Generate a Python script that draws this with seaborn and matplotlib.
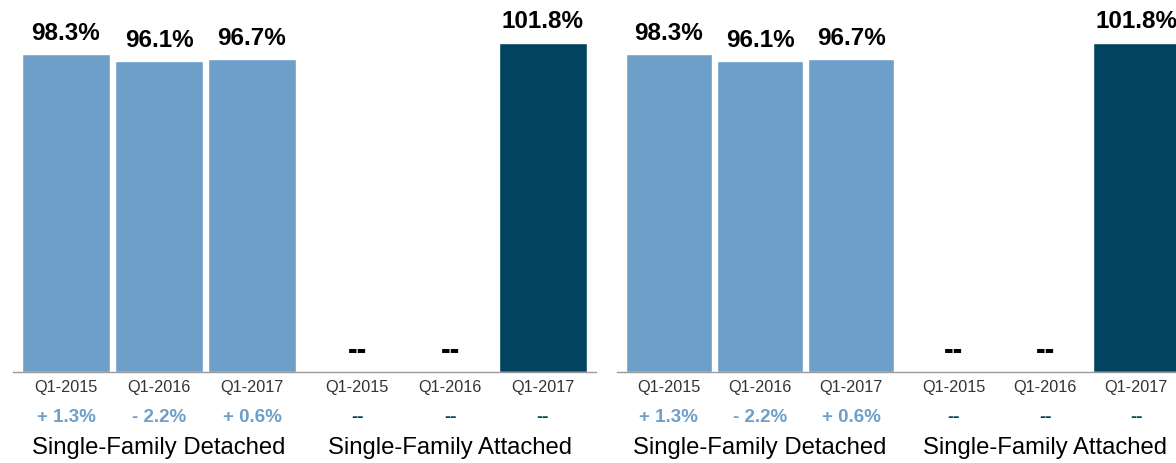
import matplotlib
matplotlib.use("Agg")
import matplotlib.pyplot as plt
import seaborn as sns
import pandas as pd
import numpy as np

# data
quarters = ["Q1-2015", "Q1-2016", "Q1-2017"]
groups = ["Single-Family Detached", "Single-Family Attached"]
detached_vals = [98.3, 96.1, 96.7]
attached_vals = [np.nan, np.nan, 101.8]
detached_change = ["+ 1.3%", "- 2.2%", "+ 0.6%"]
attached_change = ["--", "--", "--"]

light = "#6d9fc9"
dark = "#02445f"
group_gap = 0.13

sns.set_theme(style="white")
plt.rcParams["font.family"] = ["Liberation Sans", "DejaVu Sans"]

# long table: one row per slot, x position leaves a small gap between groups
rows = []
for g, (vals, chg) in enumerate([(detached_vals, detached_change), (attached_vals, attached_change)]):
    for i, q in enumerate(quarters):
        rows.append({"group": groups[g], "quarter": q, "value": vals[i], "change": chg[i],
                     "pos": g * (3 + group_gap) + i})
df = pd.DataFrame(rows)
bars = df.dropna(subset=["value"]).copy()
bars["shade"] = ["light", "light", "light", "dark"]


def draw_panel(ax):
    sns.barplot(data=bars, x="pos", y="value", hue="shade", native_scale=True,
                palette={"light": light, "dark": dark}, width=0.95, dodge=False,
                saturation=1, legend=False, ax=ax)
    ax.set_xlim(-0.57, 5.70)
    ax.set_ylim(0, 110)
    ax.set_xlabel("")
    ax.set_ylabel("")
    ax.set_yticks([])
    for s in ["top", "left", "right"]:
        ax.spines[s].set_visible(False)
    ax.spines["bottom"].set_color("#9a9a9a")
    ax.spines["bottom"].set_linewidth(1)

    ax.set_xticks(df["pos"])
    ax.set_xticklabels(df["quarter"], fontsize=11.7, color="#333333")
    ax.tick_params(axis="x", which="major", length=0, pad=5)
    # small boundary ticks between the two groups
    ax.set_xticks([-0.57, 2 + (1 + group_gap) / 2, 5.70], minor=True)
    ax.tick_params(axis="x", which="minor", length=6, width=1, color="#9a9a9a", direction="out")

    tr = ax.get_xaxis_transform()
    for _, r in df.iterrows():
        if np.isnan(r["value"]):
            ax.annotate("--", xy=(r["pos"], 0), xytext=(0, 16), textcoords="offset points",
                        ha="center", va="center", fontsize=21, fontweight="bold", color="black")
        else:
            ax.annotate(f"{r['value']:.1f}%", xy=(r["pos"], r["value"]), xytext=(0, 11),
                        textcoords="offset points", ha="center", va="baseline",
                        fontsize=17.5, fontweight="bold", color="black", annotation_clip=False)
        col = light if r["group"] == groups[0] else dark
        ax.annotate(r["change"], xy=(r["pos"], 0), xycoords=tr, xytext=(0, -32),
                    textcoords="offset points", ha="center", va="center",
                    fontsize=13.5, fontweight="bold", color=col)
    for g, name in enumerate(groups):
        ax.annotate(name, xy=(g * (3 + group_gap) + 1, 0), xycoords=tr, xytext=(0, -54),
                    textcoords="offset points", ha="center", va="center",
                    fontsize=17.2, color="black")


W, H = 1176, 464
fig = plt.figure(figsize=(W / 100, H / 100), dpi=100)
ax1 = fig.add_axes([13 / W, 91 / H, 583 / W, 356 / H])
ax2 = fig.add_axes([617 / W, 91 / H, 571 / W, 356 / H])
draw_panel(ax1)
draw_panel(ax2)

fig.savefig("out.png", dpi=100)
